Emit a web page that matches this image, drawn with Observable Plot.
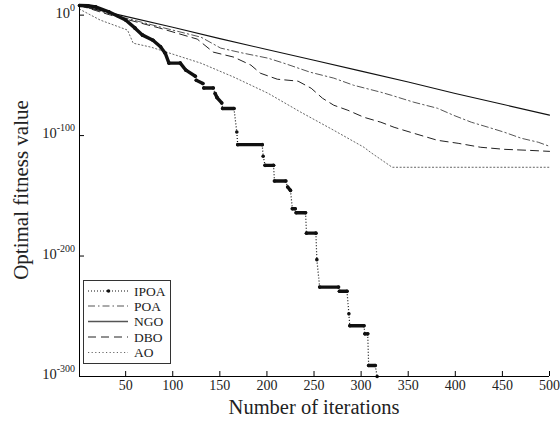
<!DOCTYPE html>
<html><head><meta charset="utf-8">
<script src="https://cdn.jsdelivr.net/npm/d3@7"></script>
<script src="https://cdn.jsdelivr.net/npm/@observablehq/plot@0.6"></script>
<style>body{margin:0;background:#fff;} #chart{width:560px;height:429px;}</style>
</head><body><div id="chart"></div>
<script>
// ---- data (values stored as log10 of the optimal fitness value) ----
const xTicks = [50, 100, 150, 200, 250, 300, 350, 400, 450, 500];
const yTickExps = [0, -100, -200, -300];
const seriesNames = ["IPOA", "POA", "NGO", "DBO", "AO"];

const ipoaIter  = [1,10,18,32,50,60,68,79,87,92,96,108,114,124,125,132,133,143,145,147,152,153,165,168,169,195,196,198,207,208,220,222,225,227,230,231,241,242,252,253,256,276,277,285,287,288,303,304,307,308,315,317];
const ipoaLog10 = [8,7.8,6.9,2.8,-4.1,-10.8,-16.6,-20.8,-26.3,-31.6,-39.8,-39.8,-45.7,-50.7,-54,-56.7,-60.5,-60.5,-65.1,-68.4,-72.9,-77.5,-77.5,-97,-107.5,-107.5,-117.2,-124.7,-124.7,-137.7,-137.7,-142.7,-145.5,-160.7,-160.7,-164,-164,-181,-181,-203,-225.8,-225.8,-229.2,-229.2,-248,-257.9,-257.9,-264.6,-264.6,-290.9,-290.9,-300];

const poaIter  = [1,34,85,130,151,175,201,218,246,271,292,321,332,356,381,398,417,435,452,470,488,500];
const poaLog10 = [8,0.8,-9.5,-18.3,-27.4,-31.6,-35.7,-39.9,-47.4,-52.3,-58.2,-64,-66.5,-72.3,-77.3,-83.1,-88.9,-93.1,-97.2,-102.2,-105.5,-108.9];

const ngoIter  = [1,50,100,150,200,250,300,350,400,450,500];
const ngoLog10 = [8,-1,-10,-19.5,-28.5,-37.5,-46.5,-55.5,-65,-74,-83];

const dboIter  = [1,34,85,126,143,165,183,193,211,233,247,259,271,286,303,321,335,356,381,403,427,452,477,500];
const dboLog10 = [8,0,-10.5,-19.9,-30.7,-34.9,-41.5,-48.2,-53.2,-54.8,-60.7,-69,-74.8,-79,-84.8,-88.9,-93.1,-98.1,-103.9,-106.4,-109.7,-111.4,-112.2,-113.1];

const aoIter  = [1,23,52,58,77,130,165,201,236,271,303,310,333,500];
const aoLog10 = [5,-4.1,-12.4,-23.3,-26.6,-39.9,-51.5,-64.8,-80.6,-95.6,-109.7,-113.9,-126.3,-126.3];

// ---- build tables ----
const rows = (it, lg) => it.map((x, i) => ({iter: x, value: 10 ** lg[i], lg: lg[i]}));
const ipoa = rows(ipoaIter, ipoaLog10);
const poa = rows(poaIter, poaLog10);
const ngo = rows(ngoIter, ngoLog10);
const dbo = rows(dboIter, dboLog10);
const ao = rows(aoIter, aoLog10);
const ipoaSegs = d3.pairs(ipoa).map(([a, b]) => ({
  x1: a.iter, y1: a.value, x2: b.iter, y2: b.value,
  steep: Math.abs(b.lg - a.lg) / (b.iter - a.iter) > 2.2
}));

const serif = "'Liberation Serif','Times New Roman',Times,serif";
const yMin = 1e-300, yMax = 1e8;

const styles = {
  IPOA: {stroke: "#111", dash: "1,2", width: 1.2},
  POA: {stroke: "#555", dash: "7,3,1.5,3", width: 1},
  NGO: {stroke: "#111", dash: null, width: 1.1},
  DBO: {stroke: "#222", dash: "8,5", width: 1},
  AO: {stroke: "#666", dash: "1.2,2.4", width: 1}
};

const plot = Plot.plot({
  width: 560, height: 429,
  marginTop: 5, marginBottom: 53, marginLeft: 79, marginRight: 11,
  x: {domain: [1, 500], axis: null},
  y: {type: "log", domain: [yMin, yMax], axis: null},
  style: {fontFamily: serif, background: "#fff", color: "#000"},
  marks: [
    Plot.line(ao, {x: "iter", y: "value", stroke: styles.AO.stroke, strokeWidth: styles.AO.width, strokeDasharray: styles.AO.dash}),
    Plot.line(dbo, {x: "iter", y: "value", stroke: styles.DBO.stroke, strokeWidth: styles.DBO.width, strokeDasharray: styles.DBO.dash}),
    Plot.line(poa, {x: "iter", y: "value", stroke: styles.POA.stroke, strokeWidth: styles.POA.width, strokeDasharray: styles.POA.dash}),
    Plot.line(ngo, {x: "iter", y: "value", stroke: styles.NGO.stroke, strokeWidth: styles.NGO.width}),
    Plot.link(ipoaSegs.filter(d => !d.steep), {x1: "x1", y1: "y1", x2: "x2", y2: "y2", stroke: "#111", strokeWidth: 3.4, strokeLinecap: "round"}),
    Plot.link(ipoaSegs, {x1: "x1", y1: "y1", x2: "x2", y2: "y2", stroke: "#111", strokeWidth: 1.2, strokeDasharray: "1,2"}),
    Plot.dot(ipoa, {x: "iter", y: "value", r: 1.8, fill: "#111"}),
    // axes lines
    Plot.ruleX([1], {stroke: "#000", strokeWidth: 1}),
    Plot.ruleY([yMin], {stroke: "#000", strokeWidth: 1}),
    // inward ticks
    Plot.ruleX(xTicks, {x: d => d, y1: yMin, y2: yMin, insetBottom: 5, stroke: "#000"}),
    Plot.ruleY(yTickExps, {y: d => 10 ** d, x1: 1, x2: 1, insetRight: -5, stroke: "#000"}),
    // x tick labels
    Plot.text(xTicks, {x: d => d, y: yMin, dy: 9, text: d => String(d), fontSize: 14, fill: "#222"})
  ]
});

document.getElementById("chart").appendChild(plot);

const svg = d3.select(plot);
const ys = plot.scale("y");
// y tick labels with superscripts
yTickExps.forEach(e => {
  const t = svg.append("text")
    .attr("x", 75).attr("y", ys.apply(10 ** e) + 3)
    .attr("text-anchor", "end")
    .attr("font-family", serif).attr("fill", "#222");
  t.append("tspan").attr("font-size", 14.5).text("10");
  t.append("tspan").attr("font-size", 10).attr("dy", -7).text(String(e));
});

// axis titles
svg.append("text")
  .attr("x", 314).attr("y", 414)
  .attr("text-anchor", "middle").attr("font-family", serif).attr("font-size", 20.5).attr("fill", "#222")
  .text("Number of iterations");
svg.append("text")
  .attr("transform", "translate(28,190) rotate(-90)")
  .attr("text-anchor", "middle").attr("font-family", serif).attr("font-size", 21).attr("fill", "#222")
  .text("Optimal fitness value");

// legend
const lg = svg.append("g");
lg.append("rect").attr("x", 83.5).attr("y", 280.5).attr("width", 87).attr("height", 83)
  .attr("fill", "#fff").attr("stroke", "#333").attr("stroke-width", 1);
const rowY = [291, 306, 321.5, 337, 352.5];
seriesNames.forEach((name, i) => {
  const s = styles[name];
  const y = rowY[i];
  lg.append("line").attr("x1", 88).attr("x2", 128).attr("y1", y).attr("y2", y)
    .attr("stroke", name === "NGO" ? "#555" : s.stroke)
    .attr("stroke-width", name === "NGO" ? 1.5 : s.width)
    .attr("stroke-dasharray", s.dash);
  if (name === "IPOA") lg.append("circle").attr("cx", 108.5).attr("cy", y).attr("r", 1.8).attr("fill", "#111");
  lg.append("text").attr("x", 134).attr("y", y + 4.5).attr("text-anchor", "start")
    .attr("font-family", serif).attr("font-size", 13.5).attr("fill", "#222").text(name);
});
</script>
</body></html>
